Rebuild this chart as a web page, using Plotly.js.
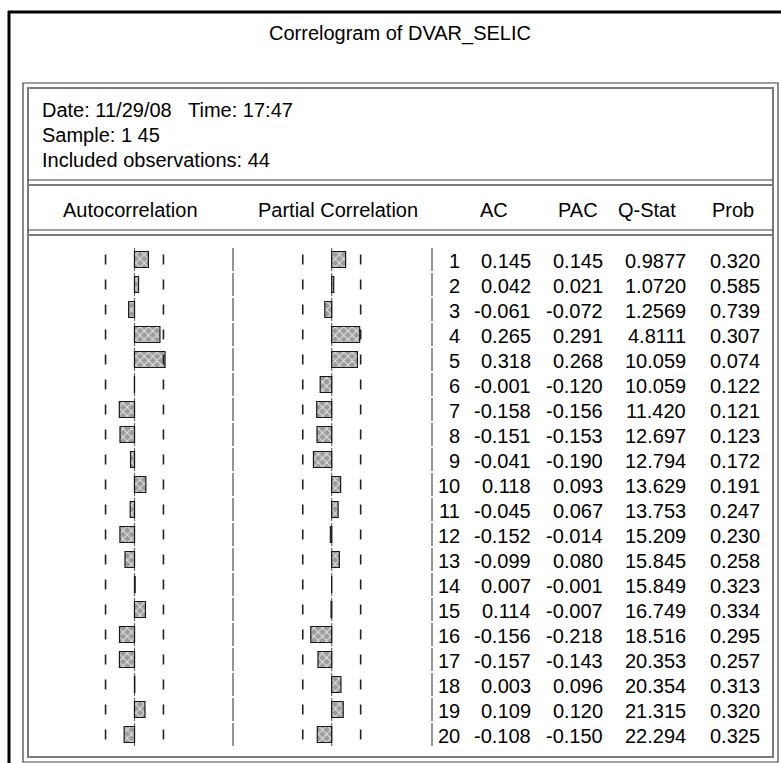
<!DOCTYPE html>
<html>
<head>
<meta charset="utf-8">
<script src="https://cdn.plot.ly/plotly-3.0.1.min.js"></script>
<style>html,body{margin:0;padding:0;background:#fff;}#chart{width:781px;height:763px;}</style>
</head>
<body>
<div id="chart"></div>
<script>
// ---- data ----
const titleText = "Correlogram of DVAR_SELIC";
const headerLines = ["Date: 11/29/08   Time: 17:47", "Sample: 1 45", "Included observations: 44"];
const columnHeaders = ["Autocorrelation", "Partial Correlation", "AC", "PAC", "Q-Stat", "Prob"];
const nObs = 44;
const lags = [1,2,3,4,5,6,7,8,9,10,11,12,13,14,15,16,17,18,19,20];
const ac   = [0.145,0.042,-0.061,0.265,0.318,-0.001,-0.158,-0.151,-0.041,0.118,-0.045,-0.152,-0.099,0.007,0.114,-0.156,-0.157,0.003,0.109,-0.108];
const pac  = [0.145,0.021,-0.072,0.291,0.268,-0.120,-0.156,-0.153,-0.190,0.093,0.067,-0.014,0.080,-0.001,-0.007,-0.218,-0.143,0.096,0.120,-0.150];
const qstat= ["0.9877","1.0720","1.2569","4.8111","10.059","10.059","11.420","12.697","12.794","13.629","13.753","15.209","15.845","15.849","16.749","18.516","20.353","20.354","21.315","22.294"];
const prob = [0.320,0.585,0.739,0.307,0.074,0.122,0.121,0.123,0.172,0.191,0.247,0.230,0.258,0.323,0.334,0.295,0.257,0.313,0.320,0.325];

// ---- geometry (pixels) ----
const W = 781, H = 763;
const px = x => x / W;
const py = y => 1 - y / H;
const ROW0 = 259.5, ROWH = 25;          // center of first row, row height
const S = 96;                            // px per unit correlation
const AC0 = 134.5, PAC0 = 331.7;         // zero positions
const bound = 2 / Math.sqrt(nObs);
const FONT = "Liberation Sans, Arial, sans-serif";
const FS = 20;

const yTop = 1 - ROW0 / ROWH, yBot = 1 + (H - ROW0) / ROWH;

const barPattern = {shape: 'x', size: 6, solidity: 0.3, fgcolor: '#e6e6e6', bgcolor: '#9c9c9c', fillmode: 'replace'};

const traces = [
  {type: 'bar', orientation: 'h', x: ac, y: lags, base: 0, width: 0.64, xaxis: 'x', yaxis: 'y',
   marker: {color: '#9c9c9c', pattern: barPattern, line: {color: '#1a1a1a', width: 1.2}}, hoverinfo: 'skip'},
  {type: 'bar', orientation: 'h', x: pac, y: lags, base: 0, width: 0.64, xaxis: 'x2', yaxis: 'y',
   marker: {color: '#9c9c9c', pattern: barPattern, line: {color: '#1a1a1a', width: 1.2}}, hoverinfo: 'skip'}
];

// confidence bound marks
function boundTrace(axis) {
  const xs = [], ys = [];
  lags.forEach(l => {
    [-bound, bound].forEach(b => { xs.push(b, b, null); ys.push(l - 0.2, l + 0.2, null); });
  });
  return {type: 'scatter', mode: 'lines', x: xs, y: ys, xaxis: axis, yaxis: 'y',
          line: {color: '#222', width: 1.6}, hoverinfo: 'skip', connectgaps: false};
}
traces.push(boundTrace('x'), boundTrace('x2'));

const shapes = [];
// outer window frame (top & left)
shapes.push({type: 'line', xref: 'paper', yref: 'paper', x0: px(8), x1: px(781), y0: py(12), y1: py(12), line: {color: '#000', width: 3}});
shapes.push({type: 'line', xref: 'paper', yref: 'paper', x0: px(9), x1: px(9), y0: py(11), y1: py(763), line: {color: '#000', width: 3}});
// inner double box
shapes.push({type: 'rect', xref: 'paper', yref: 'paper', x0: px(23), x1: px(778), y0: py(83), y1: py(762), line: {color: '#404040', width: 1.2}});
shapes.push({type: 'rect', xref: 'paper', yref: 'paper', x0: px(28), x1: px(773), y0: py(88), y1: py(757), line: {color: '#7a7a7a', width: 2}});
// horizontal double separators
[[180, 185], [230, 235]].forEach(([a, b]) => {
  shapes.push({type: 'line', xref: 'paper', yref: 'paper', x0: px(28), x1: px(773), y0: py(a), y1: py(a), line: {color: '#404040', width: 1.2}});
  shapes.push({type: 'line', xref: 'paper', yref: 'paper', x0: px(28), x1: px(773), y0: py(b), y1: py(b), line: {color: '#7a7a7a', width: 2}});
});
// vertical row lines (zero lines and separators) with small gaps at row boundaries
lags.forEach(l => {
  const y0 = l - 0.5 + 0.04, y1 = l + 0.5 - 0.04;
  shapes.push({type: 'line', xref: 'x', yref: 'y', x0: 0, x1: 0, y0: y0, y1: y1, line: {color: '#6a6a6a', width: 1.2}, layer: 'below'});
  shapes.push({type: 'line', xref: 'x2', yref: 'y', x0: 0, x1: 0, y0: y0, y1: y1, line: {color: '#6a6a6a', width: 1.2}, layer: 'below'});
  shapes.push({type: 'line', xref: 'paper', yref: 'y', x0: px(233), x1: px(233), y0: y0, y1: y1, line: {color: '#707070', width: 1.5}});
  shapes.push({type: 'line', xref: 'paper', yref: 'y', x0: px(432), x1: px(432), y0: y0, y1: y1, line: {color: '#707070', width: 1.5}});
});

const annotations = [];
const txt = (text, x, y, xanchor, yref) => ({
  text: text, x: x, y: y, xref: 'paper', yref: yref || 'paper', xanchor: xanchor, yanchor: 'middle',
  showarrow: false, font: {family: FONT, size: FS, color: '#000'}
});
annotations.push(txt(titleText, px(400.5), py(33), 'center'));
headerLines.forEach((h, i) => annotations.push(txt(h, px(40), py(110 + 25 * i), 'left')));
const colCenters = [130, 337.5, 494, 577.5, 646.7, 732.5];
columnHeaders.forEach((c, i) => annotations.push(txt(c, px(colCenters[i]), py(210), 'center')));
const rightEdges = [462, 533, 605, 688, 762];
lags.forEach((l, i) => {
  const cells = [String(l), ac[i].toFixed(3), pac[i].toFixed(3), qstat[i], prob[i].toFixed(3)];
  cells.forEach((c, j) => annotations.push(txt(c, px(rightEdges[j]), l + 0.06, 'right', 'y')));
});

const layout = {
  width: W, height: H,
  margin: {l: 0, r: 0, t: 0, b: 0, pad: 0},
  paper_bgcolor: '#ffffff', plot_bgcolor: 'rgba(0,0,0,0)',
  showlegend: false, barmode: 'overlay',
  xaxis: {domain: [0, 1], range: [-AC0 / S, (W - AC0) / S], visible: false, fixedrange: true},
  xaxis2: {domain: [0, 1], range: [-PAC0 / S, (W - PAC0) / S], overlaying: 'x', visible: false, fixedrange: true},
  yaxis: {domain: [0, 1], range: [yBot, yTop], visible: false, fixedrange: true},
  shapes: shapes,
  annotations: annotations
};

Plotly.newPlot('chart', traces, layout, {displayModeBar: false, staticPlot: true});
</script>
</body>
</html>
